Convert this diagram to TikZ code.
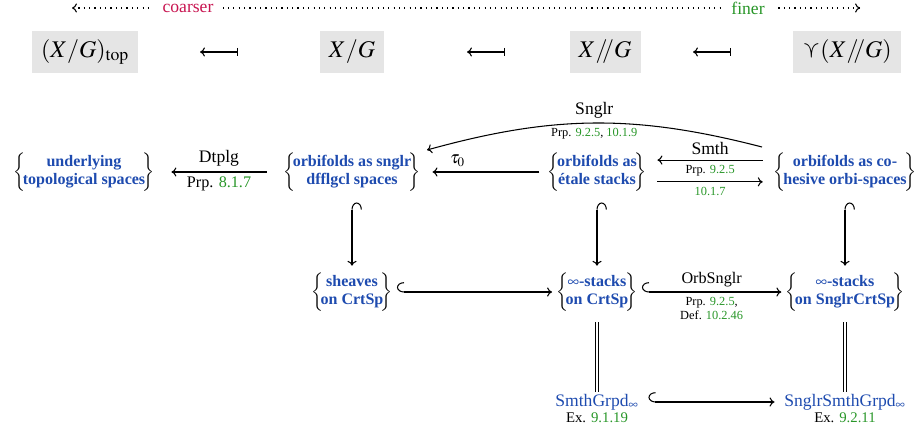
\documentclass[tikz,border=0pt]{standalone}
\usepackage{mathptmx}
\usepackage{amssymb}
\usepackage[no-math]{fontspec}
\setmainfont{Liberation Serif}
\usetikzlibrary{arrows.meta}
\definecolor{setblue}{RGB}{30,75,175}
\definecolor{refgreen}{RGB}{40,150,40}
\definecolor{crim}{RGB}{200,20,80}

% a set written as a braced, centred block of bold blue lines
\newcommand{\setof}[1]{$\delimitershortfall=0pt\left\{\mkern-3mu\vcenter{\hbox{\color{setblue}\bfseries
  \begin{tabular}{@{}c@{}}#1\end{tabular}}}\mkern-3mu\right\}$}
\newcommand{\rf}[1]{\textcolor{refgreen}{#1}}

\begin{document}
\begin{tikzpicture}[x=0.025cm,y=0.025cm, line width=0.75pt,
  >={To[length=3.5pt,width=6.5pt]},
  gbox/.style={fill=black!10, minimum height=1.03cm, inner xsep=6.5pt,
    font=\fontsize{17}{19}\selectfont},
  setnode/.style={inner sep=0pt, outer xsep=3pt, outer ysep=5pt,
    font=\fontsize{11.4}{12.6}\selectfont},
  grpd/.style={inner sep=1pt, outer xsep=6pt, text=setblue, font=\fontsize{12.5}{14}\selectfont},
  lab/.style={font=\fontsize{12.5}{14}\selectfont},
  ref/.style={font=\fontsize{8.8}{10}\selectfont},
  hk/.style={{Hooks[right,length=5pt,width=14pt]}->}
]
\useasboundingbox (0,0) rectangle (918,435);

% coarser / finer
\draw [<->, dash pattern=on 0.8pt off 3pt] (72,427) -- (860,427);
\node [fill=white, inner xsep=7pt, inner ysep=1pt, text=crim, font=\fontsize{12.5}{14}\selectfont] at (188,427) {coarser};
\node [fill=white, inner xsep=7pt, inner ysep=1pt, text=refgreen, font=\fontsize{12.5}{14}\selectfont] at (748,427) {finer};

% the four quotients
\node [gbox] (qtop) at (85,383) {$(X/G)_{\mathrm{top}}$};
\node [gbox] (qcrs) at (352,383) {$X/G$};
\node [gbox] (qstk) at (605,383) {$X/\!\!/G$};
\node [gbox] (qcoh) at (847,383) {$\curlyvee(X/\!\!/G)$};
\draw [<-|] (200,383) -- (238,383);
\draw [<-|] (467,383) -- (505,383);
\draw [<-|] (693,383) -- (731,383);

% orbifolds
\node [setnode] (und) at (84,263) {\setof{underlying\\topological spaces}};
\node [setnode] (sng) at (352,263) {\setof{orbifolds as snglr\\dfflgcl spaces}};
\node [setnode] (eta) at (597,263) {\setof{orbifolds as\\étale stacks}};
\node [setnode] (cos) at (845,263) {\setof{orbifolds as co-\\hesive orbi-spaces}};

% stacks
\node [setnode] (shv) at (352,143) {\setof{sheaves\\on CrtSp}};
\node [setnode] (stc) at (597,143) {\setof{$\infty$-stacks\\on CrtSp}};
\node [setnode] (sts) at (845,143) {\setof{$\infty$-stacks\\on SnglrCrtSp}};

% groupoids
\node [grpd, label={[inner sep=0pt, font=\fontsize{10.5}{12}\selectfont]below:Ex. \rf{9.1.19}}]
  (sgr) at (597,33) {SmthGrpd$_\infty$};
\node [grpd, label={[inner sep=0pt, font=\fontsize{10.5}{12}\selectfont]below:Ex. \rf{9.2.11}}]
  (ssg) at (845,33) {SnglrSmthGrpd$_\infty$};

% maps between them
\draw [->, shorten <=9pt, shorten >=9pt] (sng) -- node[above, lab]{Dtplg}
  node[below, ref, font=\fontsize{11.5}{12}\selectfont]{Prp. \rf{8.1.7}} (und);
\draw [->, shorten <=3pt, shorten >=5.5pt] (eta) -- node[above, lab, xshift=-19pt]{$\tau_0$} (sng);
\draw [->, shorten <=5pt, shorten >=5pt] ([yshift=8.5pt]cos.west) -- node[above, lab]{Smth}
  node[below, ref]{Prp. \rf{9.2.5}} ([yshift=8.5pt]eta.east);
\draw [->, shorten <=5pt, shorten >=5pt] ([yshift=-7pt]eta.east) -- node[below, ref]{\rf{10.1.7}} ([yshift=-7pt]cos.west);
\draw [->] ([shift={(-83,25)}]cos.center) to[bend right=15]
  node[above, lab]{Snglr} node[below, ref]{Prp. \rf{9.2.5}, \rf{10.1.9}}
  ([shift={(75,22)}]sng.center);

\draw [hk, shorten <=3pt] (sng) -- (shv);
\draw [hk, shorten <=3pt] (eta) -- (stc);
\draw [hk, shorten <=3pt] (cos) -- (sts);
\draw [hk] (shv) -- (stc);
\draw [hk] (stc) -- node[above, lab, font=\fontsize{11.5}{13}\selectfont]{OrbSnglr}
  node[below, ref, align=center]{Prp. \rf{9.2.5},\\Def. \rf{10.2.46}} (sts);

\draw [double, double distance=2pt, line width=0.6pt, shorten <=3pt] (stc) -- (sgr);
\draw [double, double distance=2pt, line width=0.6pt, shorten <=3pt] (sts) -- (ssg);
\draw [hk] (sgr) -- (ssg);
\end{tikzpicture}
\end{document}
